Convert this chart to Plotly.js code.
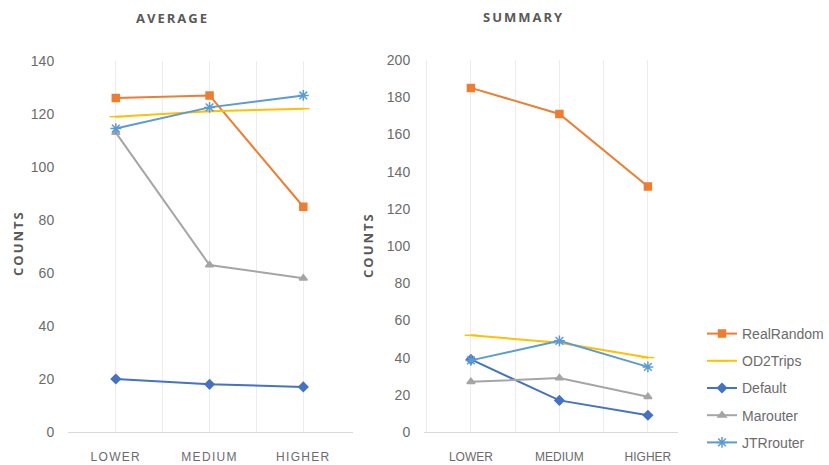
<!DOCTYPE html>
<html>
<head>
<meta charset="utf-8">
<script src="https://cdn.plot.ly/plotly-3.0.1.min.js"></script>
<style>
  html, body { margin: 0; padding: 0; background: #fff; overflow: hidden; }
  #chart { width: 829px; height: 465px; }
  .xtick text { letter-spacing: 1.3px; }
  .annotation-text { letter-spacing: 2px; }
</style>
</head>
<body>
<div id="chart"></div>
<script>
// Traffic levels on the x axis
const categories = ["LOWER", "MEDIUM", "HIGHER"];

// Routing methods (legend order)
const seriesNames = ["RealRandom", "OD2Trips", "Default", "Marouter", "JTRrouter"];

// AVERAGE panel values
const avgRealRandom = [126, 127, 85];
const avgOD2Trips   = [119, 121, 122];
const avgDefault    = [20, 18, 17];
const avgMarouter   = [113, 63, 58];
const avgJTRrouter  = [114.5, 122.5, 127];

// SUMMARY panel values
const sumRealRandom = [185, 171, 132];
const sumOD2Trips   = [52, 48, 40];
const sumDefault    = [39, 17, 9];
const sumMarouter   = [27, 29, 19];
const sumJTRrouter  = [38.5, 49, 35];

const avgTicks = [0, 20, 40, 60, 80, 100, 120, 140];
const sumTicks = [0, 20, 40, 60, 80, 100, 120, 140, 160, 180, 200];

const avgSeries = [avgRealRandom, avgOD2Trips, avgDefault, avgMarouter, avgJTRrouter];
const sumSeries = [sumRealRandom, sumOD2Trips, sumDefault, sumMarouter, sumJTRrouter];

const styles = [
  { color: "#ED7D31", symbol: "square", size: 7 },
  { color: "#FFC000", symbol: "line-ew-open", size: 9 },
  { color: "#4472C4", symbol: "diamond", size: 7 },
  { color: "#A5A5A5", symbol: "triangle-up", size: 7 },
  { color: "#5B9BD5", symbol: "asterisk-open", size: 9 }
];

const FONT = "'Liberation Sans', Arial, sans-serif";
const TXT = "#6b6b6b";
const GRID = "#ececec";

function makeTrace(name, values, i, xa, ya, showLegend) {
  const s = styles[i];
  return {
    type: "scatter",
    mode: "lines+markers",
    name: name,
    legendgroup: name,
    showlegend: showLegend,
    x: categories,
    y: values,
    xaxis: xa,
    yaxis: ya,
    cliponaxis: false,
    line: { color: s.color, width: 2 },
    marker: { symbol: s.symbol, size: s.size, color: s.color, line: { color: s.color, width: 1.5 } }
  };
}

const traces = [];
seriesNames.forEach((n, i) => traces.push(makeTrace(n, avgSeries[i], i, "x", "y", false)));
seriesNames.forEach((n, i) => traces.push(makeTrace(n, sumSeries[i], i, "x2", "y2", true)));

// empty traces so the boundary-grid overlay axes get drawn
traces.push({ type: "scatter", x: [null], y: [null], xaxis: "x3", yaxis: "y", showlegend: false, hoverinfo: "skip" });
traces.push({ type: "scatter", x: [null], y: [null], xaxis: "x4", yaxis: "y2", showlegend: false, hoverinfo: "skip" });

const W = 829, H = 465;
const leftX = [68 / W, 353 / W];
const rightX = [424 / W, 678 / W];
const plotY = [(H - 432) / H, (H - 61) / H];
const plotY2 = [(H - 432) / H, (H - 60) / H];

const avgRange = [-0.51, 2.53];
const sumRange = [-0.53, 2.34];

function catAxis(domain, range, anchor) {
  return {
    domain: domain, anchor: anchor, type: "category", range: range,
    showline: true, linecolor: "#d9d9d9", linewidth: 1,
    showgrid: true, gridcolor: GRID, gridwidth: 1,
    ticks: "outside", ticklen: 14, tickcolor: "rgba(0,0,0,0)",
    tickfont: { family: FONT, size: 12, color: TXT },
    zeroline: false, automargin: false, fixedrange: true
  };
}
function boundaryAxis(over, range, anchor) {
  return {
    overlaying: over, anchor: anchor, type: "linear", range: range,
    tickmode: "array", tickvals: [-0.5, 0.5, 1.5],
    showgrid: true, gridcolor: GRID, gridwidth: 1,
    showticklabels: false, showline: false, zeroline: false, ticks: "",
    automargin: false, fixedrange: true
  };
}
function valAxis(domain, range, ticks, anchor) {
  return {
    domain: domain, anchor: anchor, range: range,
    tickmode: "array", tickvals: ticks,
    showgrid: false, showline: false, zeroline: false,
    ticks: "outside", ticklen: 10, tickcolor: "rgba(0,0,0,0)",
    tickfont: { family: FONT, size: 14, color: TXT },
    automargin: false, fixedrange: true
  };
}

function label(text, px, py, size, angle) {
  return {
    text: text, x: px / W, y: (H - py) / H, xref: "paper", yref: "paper",
    xanchor: "center", yanchor: "middle", textangle: angle || 0, showarrow: false,
    font: { family: "'Open Sans', sans-serif", size: size, color: "#595959" }
  };
}

const layout = {
  width: W, height: H,
  margin: { l: 0, r: 0, t: 0, b: 0 },
  paper_bgcolor: "#fff", plot_bgcolor: "rgba(0,0,0,0)",
  showlegend: true,
  xaxis: catAxis(leftX, avgRange, "y"),
  yaxis: valAxis(plotY, [0, 140], avgTicks, "x"),
  xaxis2: catAxis(rightX, sumRange, "y2"),
  yaxis2: valAxis(plotY2, [0, 200], sumTicks, "x2"),
  xaxis3: boundaryAxis("x", avgRange, "y"),
  xaxis4: boundaryAxis("x2", sumRange, "y2"),
  legend: {
    x: 1, y: (H - 318) / H, xanchor: "right", yanchor: "top",
    font: { family: FONT, size: 14, color: TXT },
    itemwidth: 30, tracegroupgap: 6, traceorder: "grouped",
    bgcolor: "rgba(0,0,0,0)"
  },
  annotations: [
    label("<b>AVERAGE</b>", 172, 18, 13),
    label("<b>SUMMARY</b>", 523, 17, 13),
    label("<b>COUNTS</b>", 18, 243, 13, -90),
    label("<b>COUNTS</b>", 368, 245, 13, -90)
  ]
};

Plotly.newPlot("chart", traces, layout, { staticPlot: true, displayModeBar: false });
</script>
</body>
</html>
